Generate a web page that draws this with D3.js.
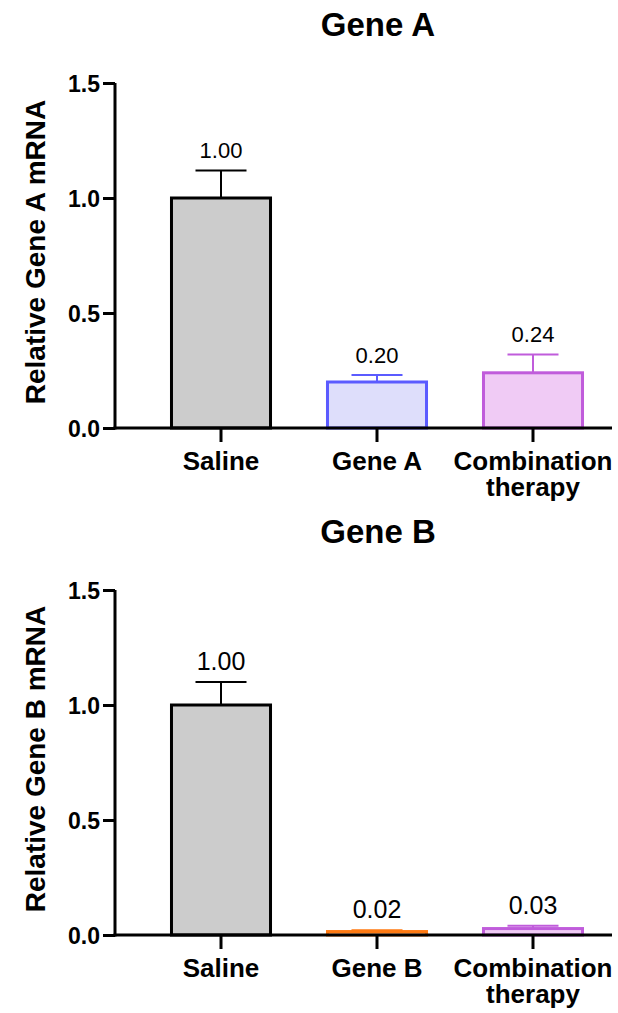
<!DOCTYPE html>
<html>
<head>
<meta charset="utf-8">
<script src="https://cdn.jsdelivr.net/npm/d3@7"></script>
<style>
    html, body { margin: 0; padding: 0; background: #fff; }
    svg { display: block; font-family: 'Liberation Sans', Arial, Helvetica, sans-serif; }
</style>
</head>
<body>
<div id="chart"></div>
<script>
// values
var yTicks = [0, 0.5, 1.0, 1.5];

var groupsA = ['Saline', 'Gene A', 'Combination therapy'];
var meansA = [1.00, 0.20, 0.24];
var errorsA = [0.12, 0.03, 0.08];
var labelsA = ['1.00', '0.20', '0.24'];

var groupsB = ['Saline', 'Gene B', 'Combination therapy'];
var meansB = [1.00, 0.015, 0.028];
var errorsB = [0.10, 0.006, 0.012];
var labelsB = ['1.00', '0.02', '0.03'];

var strokes = {
    'Saline': '#000000',
    'Gene A': '#5b5bff',
    'Gene B': '#ff7a12',
    'Combination therapy': '#c05cdb'
};
var fills = {
    'Saline': '#cccccc',
    'Gene A': '#dedefb',
    'Gene B': '#ffdcc0',
    'Combination therapy': '#f0cbf5'
};

var FONT = "'Liberation Sans', Arial, Helvetica, sans-serif";

var svg = d3.select('#chart').append('svg')
    .attr('width', 618)
    .attr('height', 1013);

function drawPanel(top, title, yTitle, groups, means, errors, labels, valueSize) {
    var axisX = 115,
        axisEnd = 612,
        y0 = top + 345;

    var y = d3.scaleLinear().domain([0, 1.5]).range([y0, top]);
    var x = d3.scaleBand().domain(groups).range([143, 611])
        .paddingInner(0.346).paddingOuter(0.173);

    var g = svg.append('g');

    var data = groups.map(function(name, i) {
        return { name: name, value: means[i], err: errors[i], label: labels[i] };
    });

    // bars
    g.selectAll('rect.bar')
        .data(data).enter().append('rect')
        .attr('class', 'bar')
        .attr('x', function(d) { return x(d.name) + 1.5; })
        .attr('width', x.bandwidth() - 3)
        .attr('y', function(d) { return y(d.value); })
        .attr('height', function(d) { return y0 - y(d.value); })
        .style('fill', function(d) { return fills[d.name]; })
        .style('stroke', function(d) { return strokes[d.name]; })
        .style('stroke-width', 3);

    // error bars (upper half only)
    var eb = g.selectAll('g.err')
        .data(data).enter().append('g')
        .attr('class', 'err')
        .style('stroke', function(d) { return strokes[d.name]; })
        .style('stroke-width', 2);

    eb.append('line')
        .attr('x1', function(d) { return x(d.name) + x.bandwidth() / 2; })
        .attr('x2', function(d) { return x(d.name) + x.bandwidth() / 2; })
        .attr('y1', function(d) { return y(d.value); })
        .attr('y2', function(d) { return y(d.value + d.err); });

    eb.append('line')
        .attr('x1', function(d) { return x(d.name) + x.bandwidth() / 4; })
        .attr('x2', function(d) { return x(d.name) + x.bandwidth() * 3 / 4; })
        .attr('y1', function(d) { return y(d.value + d.err); })
        .attr('y2', function(d) { return y(d.value + d.err); });

    // value labels
    g.selectAll('text.val')
        .data(data).enter().append('text')
        .attr('class', 'val')
        .attr('x', function(d) { return x(d.name) + x.bandwidth() / 2; })
        .attr('y', function(d) { return y(d.value + d.err) - 12; })
        .attr('text-anchor', 'middle')
        .style('font-size', valueSize + 'px')
        .text(function(d) { return d.label; });

    // y axis
    var yAxis = d3.axisLeft(y)
        .tickValues(yTicks)
        .tickFormat(d3.format('.1f'))
        .tickSizeInner(12)
        .tickSizeOuter(0)
        .tickPadding(3);

    var ya = g.append('g')
        .attr('transform', 'translate(' + axisX + ',0)')
        .call(yAxis);
    ya.select('.domain').style('stroke-width', 3).attr('d', 'M0,' + top + 'V' + (y0 + 1.5));
    ya.selectAll('.tick line').style('stroke-width', 3);
    ya.selectAll('.tick text')
        .style('font-size', '23px')
        .style('font-weight', 'bold')
        .style('font-family', FONT)
        .attr('dy', '0.36em');

    // x axis
    var xAxis = d3.axisBottom(x)
        .tickSizeInner(14)
        .tickSizeOuter(0)
        .tickFormat('');

    var xa = g.append('g')
        .attr('transform', 'translate(0,' + y0 + ')')
        .call(xAxis);
    xa.select('.domain').style('stroke-width', 3)
        .attr('d', 'M' + (axisX - 1.5) + ',0H' + axisEnd);
    xa.selectAll('.tick line').style('stroke-width', 3);

    // category labels, two-line for the combination group
    groups.forEach(function(d) {
        var words = d === 'Combination therapy' ? ['Combination', 'therapy'] : [d];
        words.forEach(function(w, i) {
            g.append('text')
                .attr('class', 'xlab')
                .attr('x', x(d) + x.bandwidth() / 2)
                .attr('y', y0 + 42 + i * 26)
                .attr('text-anchor', 'middle')
                .style('font-size', '26px')
                .style('font-weight', 'bold')
                .text(w);
        });
    });

    // titles
    g.append('text')
        .attr('x', 378)
        .attr('y', top - 47)
        .attr('text-anchor', 'middle')
        .style('font-size', '33px')
        .style('font-weight', 'bold')
        .text(title);

    g.append('text')
        .attr('transform', 'translate(45,' + (top + 169) + ') rotate(-90)')
        .attr('text-anchor', 'middle')
        .style('font-size', '28px')
        .style('font-weight', 'bold')
        .text(yTitle);
}

drawPanel(83, 'Gene A', 'Relative Gene A mRNA', groupsA, meansA, errorsA, labelsA, 22);
drawPanel(590, 'Gene B', 'Relative Gene B mRNA', groupsB, meansB, errorsB, labelsB, 25);
</script>
</body>
</html>
